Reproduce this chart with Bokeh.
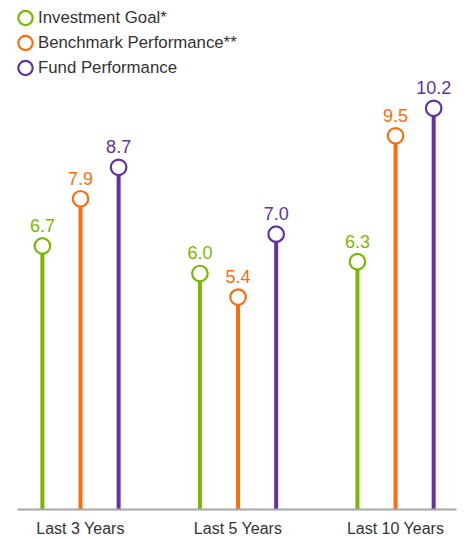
from bokeh.plotting import figure
from bokeh.models import Range1d, FixedTicker, ColumnDataSource, Legend, LegendItem
from bokeh.core.properties import value
from bokeh.embed import file_html
from bokeh.resources import INLINE

categories = ["Last 3 Years", "Last 5 Years", "Last 10 Years"]
series = ["Investment Goal*", "Benchmark Performance**", "Fund Performance"]
goal = [6.7, 6.0, 6.3]
benchmark = [7.9, 5.4, 9.5]
fund = [8.7, 7.0, 10.2]
colors = ["#7AB800", "#FF6C0E", "#6232A2"]

values = [goal, benchmark, fund]
offsets = [-0.242, 0.0, 0.242]
FONT = "Liberation Sans"

p = figure(width=466, height=539, output_backend="svg", toolbar_location=None,
           x_range=Range1d(-0.4, 2.387), y_range=Range1d(0, 12.94),
           min_border_left=17, min_border_right=10, min_border_top=0, min_border_bottom=0)
p.outline_line_color = None
p.grid.visible = False
p.yaxis.visible = False
p.background_fill_color = "white"

items = []
for name, vals, off, col in zip(series, values, offsets, colors):
    xs = [i + off for i in range(len(categories))]
    src = ColumnDataSource(dict(x=xs, y=vals, zero=[0] * len(vals),
                                lab=[f"{v:.1f}" for v in vals]))
    p.segment(x0="x", y0="zero", x1="x", y1="y", source=src, line_color=col, line_width=4)
    r = p.ellipse(x="x", y="y", width=15.5, height=15.5, width_units="screen",
                  height_units="screen", source=src,
                  fill_color="white", line_color=col, line_width=2.2)
    p.text(x="x", y="y", text="lab", source=src, text_color=col, text_font=value(FONT),
           text_font_size="18px", text_align="center", text_baseline="bottom",
           y_offset=-14)
    items.append(LegendItem(label=name, renderers=[r], index=0))

legend = Legend(items=items, location=(-1, 429), border_line_color=None,
                background_fill_alpha=0, label_text_font=FONT, label_text_font_size="16.8px",
                label_text_color="#333333", spacing=0, padding=0, margin=0,
                glyph_width=18, glyph_height=25, label_height=25, label_standoff=4)
p.add_layout(legend)

xa = p.xaxis[0]
xa.ticker = FixedTicker(ticks=list(range(len(categories))))
xa.major_label_overrides = {i: c for i, c in enumerate(categories)}
xa.major_label_text_font = FONT
xa.major_label_text_font_size = "16px"
xa.major_label_text_color = "#333333"
xa.major_tick_line_color = None
xa.minor_tick_line_color = None
xa.axis_line_color = "#A6A6A6"
xa.axis_line_width = 2
xa.major_label_standoff = 4

open("out.html", "w").write(file_html(p, INLINE))
